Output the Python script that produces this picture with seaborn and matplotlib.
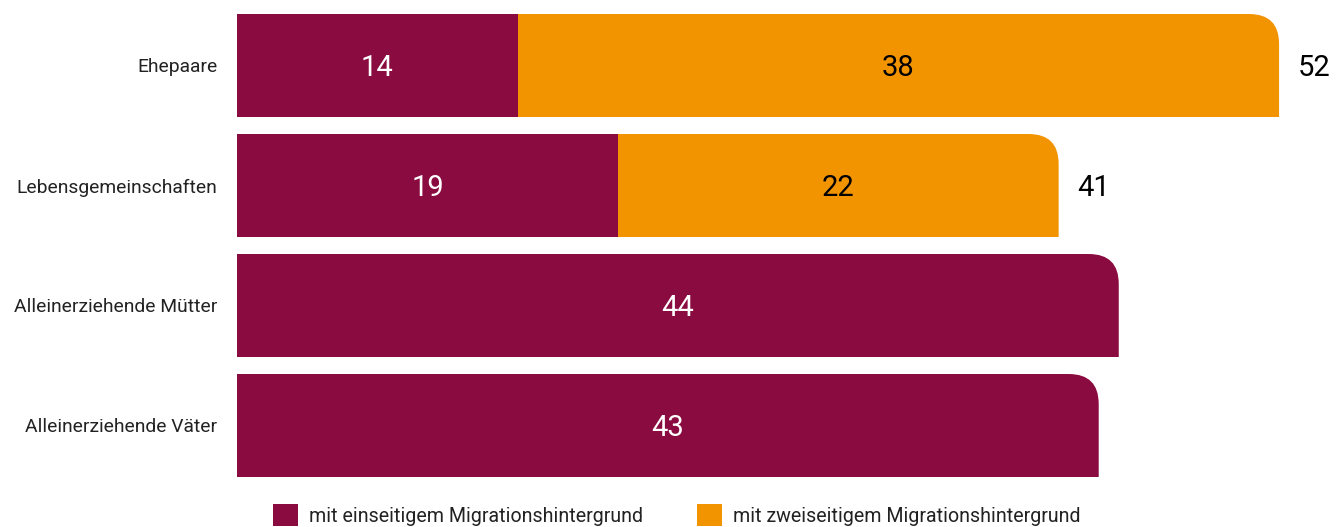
import matplotlib
matplotlib.use("Agg")
import matplotlib.pyplot as plt
import seaborn as sns
import pandas as pd
from matplotlib.path import Path
from matplotlib.patches import PathPatch, Patch

categories = ["Ehepaare", "Lebensgemeinschaften", "Alleinerziehende Mütter", "Alleinerziehende Väter"]
einseitig = [14, 19, 44, 43]
zweiseitig = [38, 22, 0, 0]
series_names = ["mit einseitigem Migrationshintergrund", "mit zweiseitigem Migrationshintergrund"]

RED = "#8a0b3f"
ORANGE = "#f29400"

sns.set_style("white")
plt.rcParams["font.family"] = ["Roboto", "DejaVu Sans"]

df = pd.DataFrame({"cat": categories, "ein": einseitig, "zwei": zweiseitig})
df["total"] = df["ein"] + df["zwei"]
df["kind"] = ["zwei" if z > 0 else "ein" for z in df["zwei"]]

fig = plt.figure(figsize=(13.41, 5.27), dpi=100)
W, H = 1341, 527
ax = fig.add_axes([237 / W, 1 - 477 / H, (W - 237) / W, 463 / H])

# total bars (outer segment, gets the rounded corner)
sns.barplot(data=df, y="cat", x="total", hue="kind", palette={"zwei": ORANGE, "ein": RED},
            dodge=False, width=103 / 120, legend=False, ax=ax, saturation=1, orient="h", linewidth=0)
outer = list(ax.patches)

ax.set_xlim(0, (W - 237) / 20.04)
ax.set_ylim(3 + 0.5 * 103 / 120, -0.5 * 103 / 120)


def round_top_right(p, rx, ry):
    x0, y0 = p.get_x(), p.get_y()
    w, h = p.get_width(), p.get_height()
    if w <= 0:
        return
    x1 = x0 + w
    verts = [(x0, y0 + h), (x1, y0 + h), (x1, y0 + ry), (x1, y0), (x1 - rx, y0), (x0, y0), (x0, y0 + h)]
    codes = [Path.MOVETO, Path.LINETO, Path.LINETO, Path.CURVE3, Path.CURVE3, Path.LINETO, Path.CLOSEPOLY]
    pp = PathPatch(Path(verts, codes), facecolor=p.get_facecolor(), edgecolor="none", zorder=0.5)
    p.remove()
    ax.add_patch(pp)


for p in outer:
    round_top_right(p, 30 / 20.04, 30 / 120)

# inner segment for the stacked rows (drawn on top)
sub = df[df["zwei"] > 0]
sns.barplot(data=sub, y="cat", x="ein", color=RED, width=103 / 120, ax=ax,
            saturation=1, orient="h", order=categories, linewidth=0)
ax.set_xlim(0, (W - 237) / 20.04)
ax.set_ylim(3 + 0.5 * 103 / 120, -0.5 * 103 / 120)

# value labels
fs = 21
for i, row in df.iterrows():
    ax.text(row["ein"] / 2, i, str(row["ein"]), color="white", ha="center", va="center_baseline", fontsize=fs)
    if row["zwei"] > 0:
        ax.text(row["ein"] + row["zwei"] / 2, i, str(row["zwei"]), color="black",
                ha="center", va="center_baseline", fontsize=fs)
        ax.text(row["total"] + 19 / 20.04, i, str(row["total"]), color="black",
                ha="left", va="center_baseline", fontsize=fs)

ax.set_xlabel("")
ax.set_ylabel("")
ax.set_xticks([])
ax.tick_params(axis="y", length=0, pad=14, labelsize=13.9, labelcolor="#222222")
sns.despine(ax=ax, left=True, bottom=True)

handles = [Patch(facecolor=RED, edgecolor="none"), Patch(facecolor=ORANGE, edgecolor="none")]
fig.legend(handles, series_names, loc="center left", bbox_to_anchor=(255 / W, 1 - 515 / H),
           ncol=2, frameon=False, fontsize=14.1, handlelength=1.32, handleheight=1.32,
           handletextpad=0.52, columnspacing=2.75, labelcolor="#222222")

fig.savefig("out.png", dpi=100)
